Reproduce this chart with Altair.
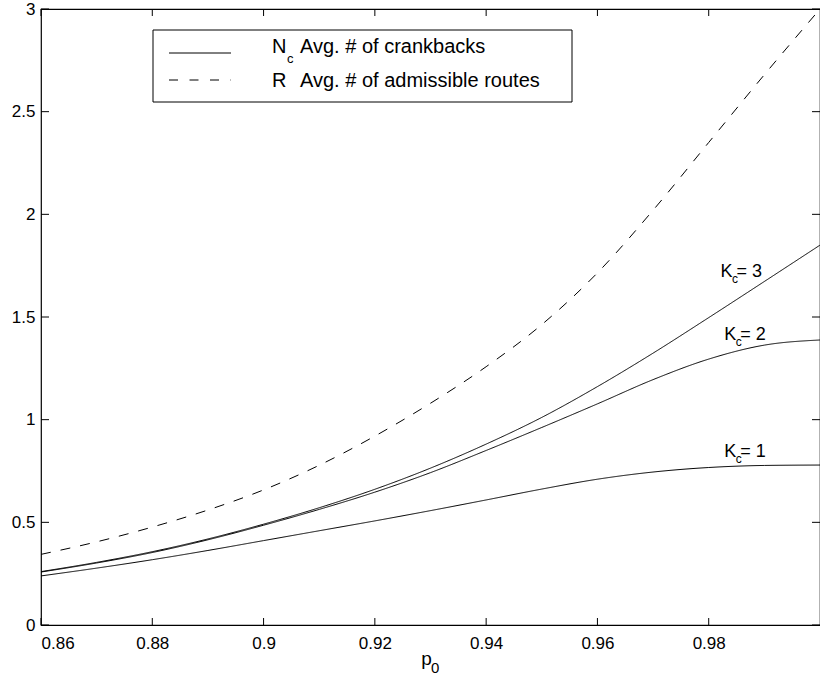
import altair as alt
import pandas as pd

# ---------------- data ----------------
p0 = [0.86, 0.87, 0.88, 0.89, 0.90, 0.91, 0.92, 0.93, 0.94, 0.95,
      0.96, 0.97, 0.98, 0.99, 1.00]
R_routes = [0.344, 0.405, 0.477, 0.560, 0.658, 0.778, 0.920, 1.080, 1.258, 1.463,
            1.715, 2.020, 2.350, 2.680, 3.000]
Nc_K3 = [0.260, 0.305, 0.357, 0.419, 0.491, 0.571, 0.661, 0.764, 0.881, 1.011,
         1.161, 1.324, 1.497, 1.673, 1.850]
Nc_K2 = [0.258, 0.302, 0.353, 0.415, 0.486, 0.563, 0.647, 0.742, 0.850, 0.962,
         1.077, 1.195, 1.295, 1.363, 1.388]
Nc_K1 = [0.239, 0.277, 0.318, 0.363, 0.411, 0.459, 0.507, 0.557, 0.609, 0.662,
         0.710, 0.745, 0.767, 0.777, 0.779]

x_ticks = [0.86, 0.88, 0.90, 0.92, 0.94, 0.96, 0.98]
y_ticks = [0, 0.5, 1, 1.5, 2, 2.5, 3]

label_p0 = [0.9821, 0.9828, 0.9828]
label_val = [1.696, 1.388, 0.820]
label_num = ["= 3", "= 2", "= 1"]

legend_sym = ["N", "R"]
legend_desc = ["Avg. # of crankbacks", "Avg. # of admissible routes"]

# ---------------- tables ----------------
rows = []
for name, vals, kind in [("R", R_routes, "R"), ("K3", Nc_K3, "N"),
                         ("K2", Nc_K2, "N"), ("K1", Nc_K1, "N")]:
    for x, v in zip(p0, vals):
        rows.append({"p0": x, "value": v, "series": name, "kind": kind})
df = pd.DataFrame(rows)

labels = pd.DataFrame({"p0": label_p0, "value": label_val, "num": label_num})
xt = pd.DataFrame({"p0": x_ticks})
yt = pd.DataFrame({"value": y_ticks})

FONT = "Liberation Sans"
W, H = 779, 616
TK = 7  # inward tick length

xscale = alt.Scale(domain=[0.86, 1.0], nice=False, zero=False)
yscale = alt.Scale(domain=[0, 3], nice=False, zero=True)

common_axis = dict(grid=False, domain=False, ticks=False, tickSize=0,
                   labelFont=FONT, labelFontSize=17, labelColor="black",
                   format="~g")

x_bottom = alt.Axis(orient="bottom", values=x_ticks,
                    labelPadding=10, title="p", titleFont=FONT, titleFontSize=19,
                    titleFontWeight="normal", titleColor="black",
                    titleX=385, titleY=39, titleAlign="center",
                    titleBaseline="alphabetic", **common_axis)
y_left = alt.Axis(orient="left", values=y_ticks,
                  labelPadding=6, title=None, **common_axis)

X = alt.X("p0:Q", scale=xscale, axis=x_bottom)
Y = alt.Y("value:Q", scale=yscale, axis=y_left)

lines = alt.Chart(df).mark_line(color="black", strokeWidth=1,
                                interpolate="monotone").encode(
    x=X, y=Y,
    detail="series:N",
    strokeDash=alt.StrokeDash("kind:N",
                              scale=alt.Scale(domain=["N", "R"],
                                              range=[[1, 0], [10, 10]]),
                              legend=None),
)

# inward tick marks on all four sides, positioned through the scales
tick_style = dict(color="black", strokeWidth=1)
tx_bottom = alt.Chart(xt).mark_rule(**tick_style).encode(
    x=X, y=alt.value(H), y2=alt.value(H - TK))
tx_top = alt.Chart(xt).mark_rule(**tick_style).encode(
    x=X, y=alt.value(0), y2=alt.value(TK))
ty_left = alt.Chart(yt).mark_rule(**tick_style).encode(
    y=Y, x=alt.value(0), x2=alt.value(TK + 1))
ty_right = alt.Chart(yt).mark_rule(**tick_style).encode(
    y=Y, x=alt.value(W), x2=alt.value(W - TK - 1))

k_text = alt.Chart(labels).mark_text(align="left", baseline="alphabetic",
                                     font=FONT, fontSize=18, color="black").encode(
    x=X, y=Y, text=alt.value("K"))
k_sub = alt.Chart(labels).mark_text(align="left", baseline="alphabetic",
                                    font=FONT, fontSize=12, color="black",
                                    dx=11.5, dy=6).encode(
    x=X, y=Y, text=alt.value("c"))
k_num = alt.Chart(labels).mark_text(align="left", baseline="alphabetic",
                                    font=FONT, fontSize=18, color="black",
                                    dx=16).encode(
    x=X, y=Y, text="num:N")

# x-axis title subscript
p_sub = alt.Chart(pd.DataFrame({"t": ["0"]})).mark_text(
    align="left", baseline="alphabetic", font=FONT, fontSize=15, color="black"
).encode(x=alt.value(390), y=alt.value(664), text="t:N")

# ---------------- legend box ----------------
one = pd.DataFrame({"a": [0]})
leg_box = alt.Chart(one).mark_rect(fill="white", stroke="black", strokeWidth=1).encode(
    x=alt.value(112), x2=alt.value(531), y=alt.value(21), y2=alt.value(93))
leg_solid = alt.Chart(one).mark_rule(color="black", strokeWidth=1).encode(
    x=alt.value(128), x2=alt.value(190), y=alt.value(44))
leg_dash = alt.Chart(one).mark_rule(color="black", strokeWidth=1,
                                    strokeDash=[9, 11.5]).encode(
    x=alt.value(128), x2=alt.value(190), y=alt.value(71))

leg_df = pd.DataFrame({"sym": legend_sym, "desc": legend_desc})
LFS = 20
leg_n = alt.Chart(leg_df.iloc[[0]]).mark_text(
    align="left", baseline="alphabetic", font=FONT, fontSize=LFS, color="black"
).encode(x=alt.value(231), y=alt.value(44), text="sym:N")
leg_nc = alt.Chart(leg_df.iloc[[0]]).mark_text(
    align="left", baseline="alphabetic", font=FONT, fontSize=13, color="black"
).encode(x=alt.value(246), y=alt.value(54), text=alt.value("c"))
leg_nd = alt.Chart(leg_df.iloc[[0]]).mark_text(
    align="left", baseline="alphabetic", font=FONT, fontSize=LFS, color="black"
).encode(x=alt.value(259), y=alt.value(44), text="desc:N")
leg_r = alt.Chart(leg_df.iloc[[1]]).mark_text(
    align="left", baseline="alphabetic", font=FONT, fontSize=LFS, color="black"
).encode(x=alt.value(231), y=alt.value(78), text="sym:N")
leg_rd = alt.Chart(leg_df.iloc[[1]]).mark_text(
    align="left", baseline="alphabetic", font=FONT, fontSize=LFS, color="black"
).encode(x=alt.value(259), y=alt.value(78), text="desc:N")

chart = alt.layer(
    lines, k_text, k_sub, k_num, p_sub,
    leg_box, leg_solid, leg_dash, leg_n, leg_nc, leg_nd, leg_r, leg_rd,
    tx_bottom, tx_top, ty_left, ty_right,
).properties(
    width=W, height=H,
    autosize=alt.AutoSizeParams(type="none"),
    padding={"left": 41, "top": 9, "right": 0, "bottom": 52},
    background="white",
).configure_view(stroke="black", strokeWidth=1.2)

chart.save("out.html", embed_options={"renderer": "svg", "actions": False})
